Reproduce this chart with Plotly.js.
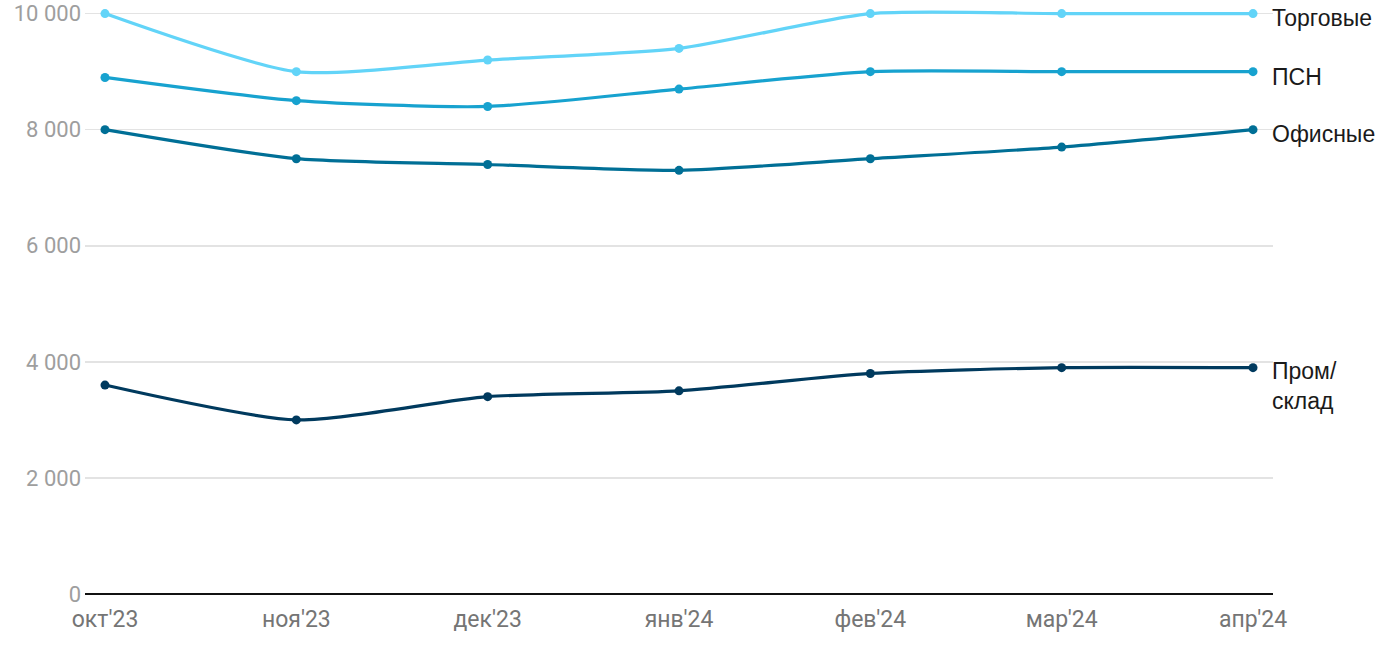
<!DOCTYPE html>
<html><head><meta charset="utf-8">
<script src="https://cdn.plot.ly/plotly-3.0.1.min.js"></script>
<style>html,body{margin:0;padding:0;background:#fff}#chart{width:1400px;height:650px}</style>
</head><body><div id="chart"></div>
<script>
const months = ["окт'23","ноя'23","дек'23","янв'24","фев'24","мар'24","апр'24"];
const seriesNames = ["Торговые","ПСН","Офисные","Пром/<br>склад"];
const torgovye = [10000, 9000, 9200, 9400, 10000, 10000, 10000];
const psn = [8900, 8500, 8400, 8700, 9000, 9000, 9000];
const ofisnye = [8000, 7500, 7400, 7300, 7500, 7700, 8000];
const promSklad = [3600, 3000, 3400, 3500, 3800, 3900, 3900];
const yTicks = [0, 2000, 4000, 6000, 8000, 10000];
const colors = ["#62d4f8", "#17a2cf", "#006f96", "#003a5e"];
const allSeries = [torgovye, psn, ofisnye, promSklad];
const labelShift = [-4, -5, -4, -18];

const xs = months.map((m,i)=>i);
const traces = allSeries.map((ys,k)=>({
  x: xs, y: ys, type:'scatter', mode:'lines+markers',
  line:{color:colors[k], width:3.2, shape:'spline', smoothing:0.65},
  marker:{color:colors[k], size:9},
  cliponaxis:false,
  name: seriesNames[k], hoverinfo:'skip'
}));
const annotations = allSeries.map((ys,k)=>({
  x: xs[xs.length-1], y: ys[ys.length-1], xref:'x', yref:'y',
  text: seriesNames[k], showarrow:false, xanchor:'left', yanchor:'middle',
  xshift: 17, yshift: labelShift[k], align:'left',
  font:{family:'Liberation Sans, Arial, sans-serif', size:23, color:'#1a1a1a'}
}));
const layout = {
  width:1400, height:650,
  margin:{l:85, r:127, t:2.4, b:56},
  paper_bgcolor:'#fff', plot_bgcolor:'#fff',
  showlegend:false,
  separators:', ',
  xaxis:{
    range:[-0.1045, 6.1045], tickvals: xs, ticktext: months,
    showgrid:false, zeroline:false, showline:false, ticks:'',
    ticklabelstandoff: 9,
    tickfont:{family:'Roboto, sans-serif', size:23, color:'#757575'}
  },
  yaxis:{
    range:[0,10200], tickvals: yTicks,
    tickformat:',d', showgrid:true, gridcolor:'#e3e3e3', gridwidth:1.5,
    zeroline:true, zerolinecolor:'#111', zerolinewidth:2,
    ticks:'', ticklen:0, ticklabelstandoff: 3,
    tickfont:{family:'Roboto, sans-serif', size:22, color:'#9e9e9e'}
  },
  annotations: annotations
};
Plotly.newPlot('chart', traces, layout, {displayModeBar:false, staticPlot:true});
</script></body></html>
